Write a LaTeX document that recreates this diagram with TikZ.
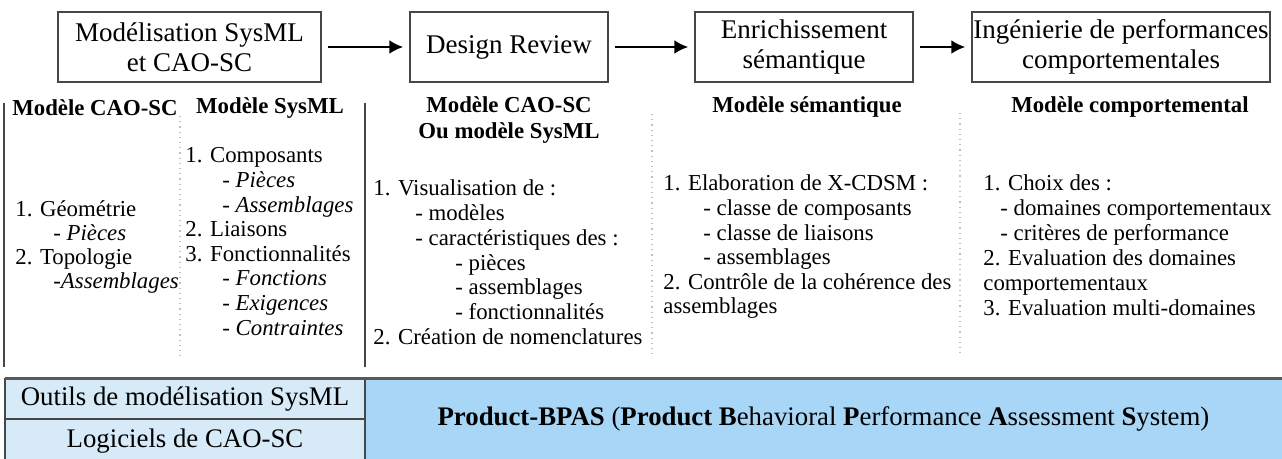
\documentclass[tikz,border=0pt]{standalone}
\usepackage{fontspec}
\setmainfont{Liberation Serif}
\usetikzlibrary{arrows.meta}
\definecolor{palecell}{RGB}{214,234,247}
\definecolor{bluecell}{RGB}{168,214,247}
\definecolor{rulegray}{RGB}{70,70,70}

\begin{document}
\begin{tikzpicture}[x=0.5pt,y=-0.5pt,
    stage/.style={draw=rulegray, line width=0.7pt, minimum height=35pt, align=center, inner sep=0pt, font=\fontsize{13.5}{15}\selectfont},
    flow/.style={-{Latex[length=7pt,width=7pt]}, line width=1.3pt, shorten <=3pt, shorten >=3pt},
    head/.style={anchor=base, inner sep=0pt, font=\fontsize{11.4}{12}\selectfont\bfseries},
    item/.style={anchor=base west, inner sep=0pt, font=\fontsize{11.4}{12}\selectfont},
    colsep/.style={draw=gray!50, dotted, line width=0.6pt},
    colrule/.style={draw=rulegray, line width=1pt},
    cell/.style={draw=rulegray, line width=0.6pt, inner sep=0pt, font=\fontsize{13.4}{14}\selectfont}]
    \useasboundingbox (0,0) rectangle (1282,459);

    % Stages
    \node[stage, minimum width=131.5pt] (modelisation) at (189.5,47) {Modélisation SysML\\et CAO-SC};
    \node[stage, minimum width=99pt] (review) at (509,47) {Design Review};
    \node[stage, minimum width=109pt] (enrichissement) at (804,47) {Enrichissement\\sémantique};
    \node[stage, minimum width=149pt] (ingenierie) at (1121,47) {Ingénierie de performances\\comportementales};

    % Flow
    \draw[flow] (modelisation) -- (review);
    \draw[flow] (review) -- (enrichissement);
    \draw[flow] (enrichissement) -- (ingenierie);

    % Column rules
    \draw[colrule] (4,103) -- (4,367);
    \draw[colrule] (365,103) -- (365,367);
    \draw[colsep] (180,116) -- (180,357);
    \draw[colsep] (652,114) -- (652,357);
    \draw[colsep] (960,113) -- (960,357);

    % Modele CAO-SC
    \node[head] (hcao) at (95,116) {Modèle CAO-SC};
    \node[item] (cao1) at (15,217) {1. Géométrie};
    \node[item] (cao2) at (53,241) {- \textit{Pièces}};
    \node[item] (cao3) at (15,265) {2. Topologie};
    \node[item] (cao4) at (53,289) {-\textit{Assemblages}};

    % Modele SysML
    \node[head] (hsysml) at (270,114) {Modèle SysML};
    \node[item] (sysml1) at (185,163) {1. Composants};
    \node[item] (sysml2) at (222,187.6) {- \textit{Pièces}};
    \node[item] (sysml3) at (222,212.2) {- \textit{Assemblages}};
    \node[item] (sysml4) at (185,236.8) {2. Liaisons};
    \node[item] (sysml5) at (185,261.4) {3. Fonctionnalités};
    \node[item] (sysml6) at (222,286) {- \textit{Fonctions}};
    \node[item] (sysml7) at (222,310.6) {- \textit{Exigences}};
    \node[item] (sysml8) at (222,335.2) {- \textit{Contraintes}};

    % Design review
    \node[head] (hdr1) at (509,113) {Modèle CAO-SC};
    \node[head] (hdr2) at (509,139) {Ou modèle SysML};
    \node[item] (dr1) at (373,196) {1. Visualisation de :};
    \node[item] (dr2) at (415,220.7) {- modèles};
    \node[item] (dr3) at (415,245.4) {- caractéristiques des :};
    \node[item] (dr4) at (455,270.1) {- pièces};
    \node[item] (dr5) at (455,294.8) {- assemblages};
    \node[item] (dr6) at (455,319.5) {- fonctionnalités};
    \node[item] (dr7) at (373,344.2) {2. Création de nomenclatures};

    % Modele semantique
    \node[head] (hsem) at (807,113) {Modèle sémantique};
    \node[item] (sem1) at (663,191) {1. Elaboration de X-CDSM :};
    \node[item] (sem2) at (703,215.6) {- classe de composants};
    \node[item] (sem3) at (703,240.2) {- classe de liaisons};
    \node[item] (sem4) at (703,264.8) {- assemblages};
    \node[item] (sem5) at (663,289.4) {2. Contrôle de la cohérence des};
    \node[item] (sem6) at (663,314) {assemblages};

    % Modele comportemental
    \node[head] (hcomp) at (1130,113) {Modèle comportemental};
    \node[item] (comp1) at (983,191) {1. Choix des :};
    \node[item] (comp2) at (1000,216) {- domaines comportementaux};
    \node[item] (comp3) at (1000,241) {- critères de performance};
    \node[item] (comp4) at (983,266) {2. Evaluation des domaines};
    \node[item] (comp5) at (983,291) {comportementaux};
    \node[item] (comp6) at (983,316) {3. Evaluation multi-domaines};

    % Outils
    \node[cell, draw=none, fill=bluecell, minimum width=459pt, minimum height=40pt] (bpas) at (823.5,419)
        {\textbf{Product-BPAS} (\textbf{Product B}ehavioral \textbf{P}erformance \textbf{A}ssessment \textbf{S}ystem)};
    \node[cell, fill=palecell, minimum width=180pt, minimum height=20pt] (outils) at (185,399) {Outils de modélisation SysML};
    \node[cell, fill=palecell, minimum width=180pt, minimum height=22pt] (logiciels) at (185,441) {Logiciels de CAO-SC};
    \draw[draw=gray!70!black, line width=1.5pt] (5,379) -- (1290,379);
\end{tikzpicture}
\end{document}
